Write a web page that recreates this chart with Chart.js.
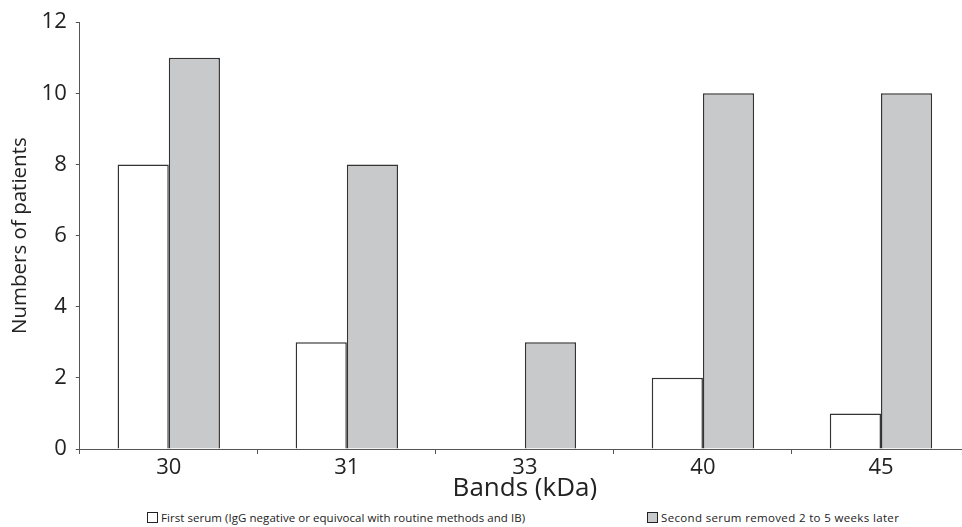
<!DOCTYPE html>
<html>
<head>
<meta charset="utf-8">
<script src="https://cdn.jsdelivr.net/npm/chart.js@4.4.0/dist/chart.umd.min.js"></script>
<style>
    body { margin: 0; background: #fff; overflow: hidden; width: 962px; height: 527px; }
    #wrap { position: absolute; left: 0; top: 0; width: 970px; height: 500px; }
    .legend { position: absolute; top: 510px; font-family: "Open Sans", sans-serif; font-size: 11.5px; color: #222; white-space: nowrap; }
    .box { display: inline-block; width: 9px; height: 9px; border: 1px solid #222; margin-right: 3px; vertical-align: -1px; }
</style>
</head>
<body>
<div id="wrap"><canvas id="bandChart"></canvas></div>
<div class="legend" style="left:147px; letter-spacing:0.05px"><span class="box" style="background:#fff"></span>First serum (IgG negative or equivocal with routine methods and IB)</div>
<div class="legend" style="left:647px; letter-spacing:0.35px"><span class="box" style="background:#c8c9cb"></span>Second serum removed 2 to 5 weeks later</div>

<script>
// ---------------- DATA ----------------

const bands = ["30", "31", "33", "40", "45"];
const firstSerum = [8, 3, 0, 2, 1];
const secondSerum = [11, 8, 3, 10, 10];
const yTicks = [0, 2, 4, 6, 8, 10, 12];

// ---------------- CHART ----------------

const axisColor = "#555";
const fontFamily = "'Open Sans', sans-serif";

const ctx = document.getElementById("bandChart");

new Chart(ctx, {
    type: "bar",
    data: {
        labels: bands,
        datasets: [
            {
                label: "First serum (IgG negative or equivocal with routine methods and IB)",
                data: firstSerum,
                backgroundColor: "#ffffff",
                borderColor: "#333",
                borderWidth: 1.5,
                categoryPercentage: 0.575,
                barPercentage: 1
            },
            {
                label: "Second serum removed 2 to 5 weeks later",
                data: secondSerum,
                backgroundColor: "#c8c9cb",
                borderColor: "#333",
                borderWidth: 1.5,
                categoryPercentage: 0.575,
                barPercentage: 1
            }
        ]
    },
    options: {
        responsive: true,
        maintainAspectRatio: false,
        animation: false,
        layout: { padding: { top: -4, left: 8, right: 0, bottom: 0 } },
        plugins: {
            legend: { display: false },
            tooltip: { enabled: false }
        },
        scales: {
            x: {
                grid: { drawOnChartArea: false, drawTicks: true, tickLength: 5, color: axisColor, offset: true },
                border: { color: axisColor, width: 1 },
                ticks: { color: "#222", font: { family: fontFamily, size: 22, lineHeight: 0.8 }, padding: 5 },
                title: { display: true, text: "Bands (kDa)", color: "#222", font: { family: fontFamily, size: 26, lineHeight: 0.9 }, padding: { top: -5, bottom: 0 } }
            },
            y: {
                min: 0,
                max: 12,
                afterBuildTicks: axis => { axis.ticks = yTicks.map(v => ({ value: v })); },
                grid: { drawOnChartArea: false, drawTicks: true, tickLength: 4, color: axisColor },
                border: { color: axisColor, width: 1 },
                ticks: { color: "#222", font: { family: fontFamily, size: 22 }, padding: 9 },
                title: { display: true, text: "Numbers of patients", color: "#222", font: { family: fontFamily, size: 20.5 }, padding: 0 }
            }
        }
    }
});
</script>
</body>
</html>
